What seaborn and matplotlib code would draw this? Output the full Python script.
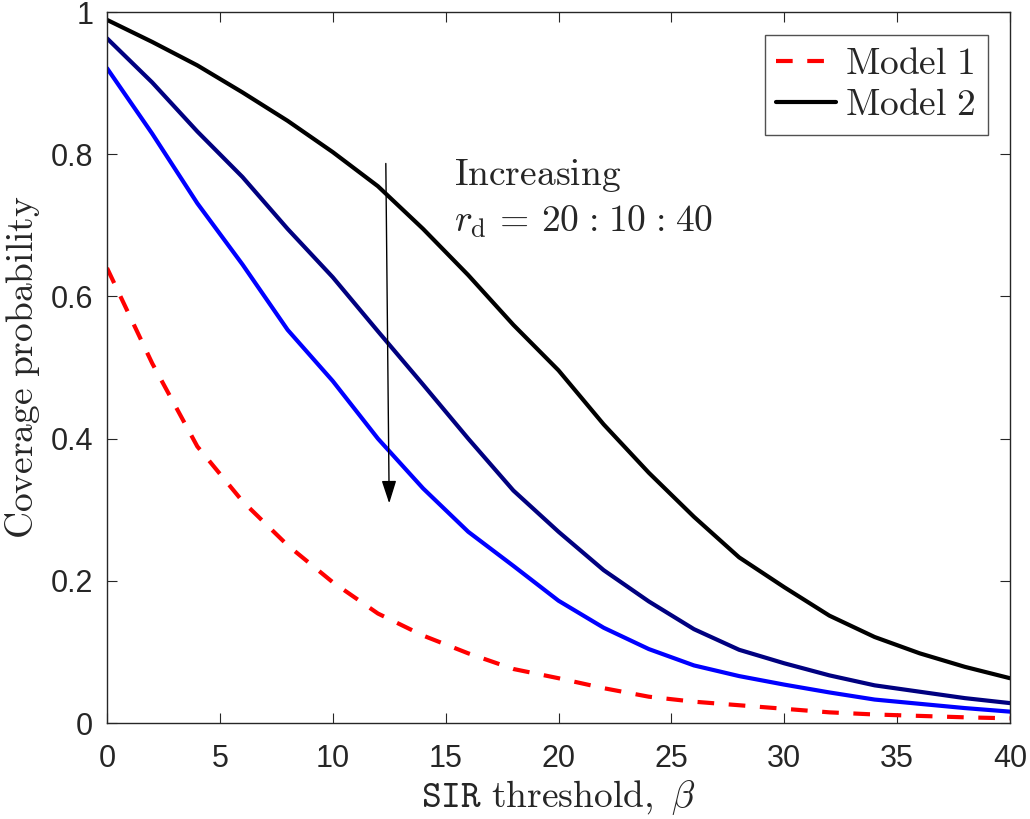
import numpy as np
import pandas as pd
import seaborn as sns
import matplotlib.pyplot as plt

# SIR threshold values (beta) and read-off coverage probabilities
beta = [0, 2, 4, 6, 8, 10, 12, 14, 16, 18, 20, 22, 24, 26, 28, 30, 32, 34, 36, 38, 40]
model1 = [0.640, 0.506, 0.389, 0.312, 0.250, 0.198, 0.154, 0.123, 0.098, 0.076, 0.063,
          0.049, 0.037, 0.030, 0.025, 0.020, 0.015, 0.012, 0.010, 0.008, 0.0066]
rd20 = [0.989, 0.958, 0.925, 0.887, 0.847, 0.803, 0.755, 0.695, 0.630, 0.560, 0.496,
        0.420, 0.352, 0.290, 0.233, 0.191, 0.151, 0.121, 0.098, 0.079, 0.063]
rd30 = [0.963, 0.901, 0.832, 0.768, 0.695, 0.627, 0.551, 0.476, 0.400, 0.327, 0.269,
        0.215, 0.171, 0.132, 0.103, 0.084, 0.067, 0.053, 0.044, 0.035, 0.028]
rd40 = [0.921, 0.829, 0.731, 0.645, 0.553, 0.481, 0.400, 0.330, 0.269, 0.221, 0.172,
        0.134, 0.104, 0.081, 0.066, 0.054, 0.043, 0.033, 0.027, 0.021, 0.016]

xticks = [0, 5, 10, 15, 20, 25, 30, 35, 40]
yticks = [0, 0.2, 0.4, 0.6, 0.8, 1]
ytick_labels = ["0", "0.2", "0.4", "0.6", "0.8", "1"]

sns.set_style("ticks")
plt.rcParams['font.family'] = ['Liberation Sans', 'DejaVu Sans']
plt.rcParams['mathtext.fontset'] = 'cm'

df = pd.DataFrame({"beta": beta, "m1": model1, "rd20": rd20, "rd30": rd30, "rd40": rd40})

fig = plt.figure(figsize=(10.3, 8.19), dpi=100)
ax = fig.add_axes([0.1039, 0.1172, 0.8767, 0.8681])

sns.lineplot(data=df, x="beta", y="m1", ax=ax, color="#ff0000", lw=3,
             label=r"$\mathrm{Model\ 1}$")
ax.lines[-1].set_dashes((4, 3.5))
sns.lineplot(data=df, x="beta", y="rd20", ax=ax, color="black", lw=3,
             label=r"$\mathrm{Model\ 2}$")
sns.lineplot(data=df, x="beta", y="rd30", ax=ax, color="#000080", lw=3, legend=False)
sns.lineplot(data=df, x="beta", y="rd40", ax=ax, color="#0000ff", lw=3, legend=False)
for ln in ax.lines:
    ln.set_solid_joinstyle("round")

ax.set_xlim(0, 40)
ax.set_ylim(0, 1)
ax.set_xticks(xticks)
ax.set_xticklabels([str(t) for t in xticks])
ax.set_yticks(yticks)
ax.set_yticklabels(ytick_labels)
ax.tick_params(direction="in", length=7, width=0.8, top=True, right=True,
               labelsize=22, colors="#262626")
ax.tick_params(axis="x", pad=15)
ax.tick_params(axis="y", pad=10)
for s in ax.spines.values():
    s.set_linewidth(1.0)
    s.set_color("#262626")

ax.set_xlabel(r"$\mathtt{SIR}\ \mathrm{threshold,}\ \beta$", fontsize=27, labelpad=3)
ax.set_ylabel(r"$\mathrm{Coverage\ probability}$", fontsize=27, labelpad=6)

ax.annotate("", xy=(12.5, 0.309), xytext=(12.35, 0.787),
            arrowprops=dict(arrowstyle="-|>,head_length=1.4,head_width=0.45",
                            color="black", lw=1.0, shrinkA=0, shrinkB=0))
ax.text(15.35, 0.757, r"$\mathrm{Increasing}$", fontsize=27, va="baseline")
ax.text(15.35, 0.691,
        r"$r_{\mathrm{d}}\,=\,20\hspace{0.09}:\hspace{0.09}10\hspace{0.09}:\hspace{0.09}40$",
        fontsize=27, va="baseline")

leg = ax.legend(loc="upper right", fontsize=27, frameon=True, fancybox=False,
                handlelength=1.6, handletextpad=0.25, borderpad=0.3,
                labelspacing=0.15, borderaxespad=0.6)
leg.get_frame().set_edgecolor("#262626")
leg.get_frame().set_linewidth(1.0)

fig.savefig("out.png", dpi=100)
